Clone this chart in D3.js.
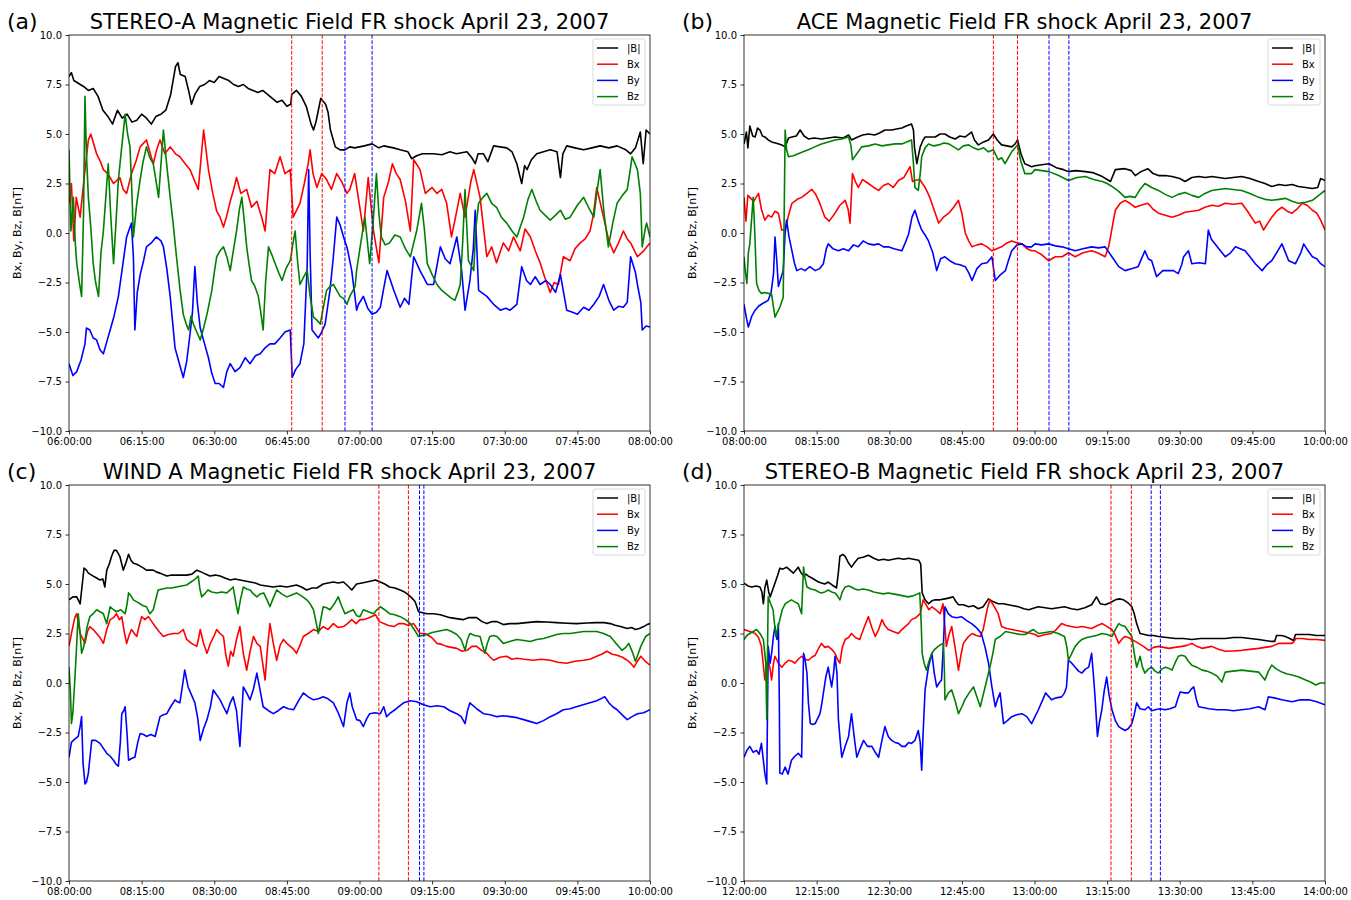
<!DOCTYPE html>
<html><head><meta charset="utf-8">
<script src="https://cdn.jsdelivr.net/npm/d3@7"></script>
<style>body{margin:0;background:#fff} text{font-family:"DejaVu Sans",sans-serif}</style>
</head><body><svg id="chart" width="1351" height="900"></svg>
<script>
// ---- data: [minutes after start, nT] ----
const aB = [[0,7.9],[0.5,8.1],[1,7.7],[2,7.55],[3,7.4],[4,7.2],[5,7.3],[6,6.9],[7,6.2],[8,5.9],[9,5.5],[10,6.2],[11,5.8],[12,6.0],[13,5.6],[14,5.7],[15,6.0],[16,5.8],[17,5.5],[18,5.9],[19,6.0],[20,6.2],[21,7.0],[22,8.4],[22.5,8.6],[23,8.0],[24,7.9],[24.7,7.2],[25.3,6.5],[26,7.0],[27,7.4],[28,7.5],[29,7.7],[30,7.6],[31,7.9],[32,7.8],[33,7.7],[34,7.5],[35,7.4],[36,7.5],[37,7.3],[38,7.2],[39,7.1],[40,7.2],[41,7.0],[42,6.8],[43,6.6],[44,6.7],[45,6.4],[45.8,6.5],[46,7.0],[47,7.2],[48,6.9],[49,6.4],[50,5.5],[50.5,5.2],[51,5.6],[51.5,6.2],[52,6.8],[53,6.5],[53.5,6.1],[54,5.2],[55,4.35],[56,4.2],[57,4.2],[58,4.35],[59,4.3],[60,4.35],[61,4.4],[62.6,4.5],[64,4.3],[65,4.4],[67,4.3],[68.4,4.2],[70,4.1],[70.8,3.75],[71.8,3.9],[73,4.0],[75.3,4.0],[77,3.95],[78.7,4.1],[80,4.0],[82.2,4.1],[83.2,3.8],[83.9,3.5],[84.5,4.0],[85.6,4.0],[86.5,3.6],[87.7,4.4],[89,4.35],[90.4,4.3],[91.5,4.1],[92.5,3.5],[93.5,2.5],[94.1,3.4],[94.6,3.2],[95.5,3.7],[96.6,4.0],[98,4.1],[99.4,4.2],[100.8,4.1],[101.5,2.8],[102,4.0],[102.8,4.4],[104.5,4.3],[106.3,4.2],[108,4.3],[109.7,4.4],[111.5,4.3],[113.2,4.4],[115,4.2],[116,4.0],[117,4.3],[118,5.1],[118.6,3.5],[119.2,5.2],[120,5.0]];
const aBx = [[0,1.5],[0.5,2.5],[1,-0.4],[1.5,1.8],[2.3,0.8],[3,2.5],[4,4.7],[4.5,5.0],[5.7,4.0],[6.5,3.6],[7.1,3.2],[8,3.0],[9.2,2.5],[10.5,2.8],[11.2,2.2],[11.9,2.0],[12.9,3.0],[13.8,3.6],[14.7,4.35],[16,4.7],[16.8,4.0],[17.4,3.5],[18.1,4.2],[18.8,4.7],[19.8,4.0],[20.9,4.35],[22,4.0],[22.9,3.85],[24,3.5],[25,3.2],[26,2.6],[26.7,2.2],[27.8,5.2],[28.8,3.2],[29.7,2.0],[30.5,1.1],[31.2,0.8],[31.9,0.3],[32.5,0.8],[33.3,1.6],[34,2.2],[34.6,2.8],[35.5,2.0],[36.7,2.2],[37.7,1.3],[38.8,1.6],[39.8,0.8],[40.5,0.1],[41.5,3.2],[42.5,3.0],[43.6,3.85],[44.6,3.0],[45.7,3.2],[46.3,0.8],[47.7,1.5],[48.6,2.5],[49.4,3.5],[49.8,4.2],[50.4,3.0],[51.2,2.3],[52.2,3.0],[53.2,2.7],[54.2,2.2],[55.3,3.0],[56.3,2.6],[57.4,2.0],[58,2.2],[59,3.0],[60,1.4],[60.8,0.1],[61.8,2.8],[62.9,0.1],[64,-1.5],[65,1.8],[66,2.6],[66.8,3.5],[67.6,3.0],[68.4,2.7],[69.5,1.6],[70.5,0.1],[71.2,3.7],[72.5,3.2],[73.6,2.0],[75,2.3],[76,2.0],[77,2.2],[78,1.5],[79,-0.2],[80,1.0],[80.8,2.0],[81.8,0.8],[83,2.6],[83.6,3.2],[84.9,1.8],[86.3,-1.2],[87.3,-0.7],[88.3,-1.5],[89.7,-0.5],[90.8,-0.9],[91.8,-0.2],[93.2,-0.9],[94.2,0.2],[95.3,-0.2],[96.3,-0.9],[97.3,-1.5],[98.2,-2.2],[99.4,-3.0],[100.2,-2.5],[101.1,-2.6],[102.1,-1.2],[103.5,-1.4],[104.5,-0.8],[105.6,-0.5],[106.6,-0.3],[107.6,0.1],[108.3,0.9],[109,2.3],[110.4,0.8],[111.5,-0.4],[112.5,-1.0],[113.5,-0.5],[114.5,0.1],[115.3,-0.3],[116,-0.5],[117.4,-1.2],[118.7,-0.9],[120,-0.5]];
const aBy = [[0,-6.6],[0.8,-7.2],[1.6,-7.0],[2.5,-6.4],[3.3,-5.6],[3.6,-4.8],[4.3,-4.9],[5,-5.3],[5.7,-5.4],[6.4,-5.9],[7.1,-6.1],[7.8,-5.5],[8.5,-4.9],[9.3,-4.2],[10.2,-3.2],[11,-1.8],[11.9,-0.2],[12.9,0.5],[13.3,-1.2],[13.6,-4.9],[14.1,-3.0],[14.7,-2.1],[15.4,-1.4],[16,-0.7],[17,-0.5],[18,-0.2],[19,-0.4],[19.5,-0.7],[20.2,-1.8],[20.9,-3.2],[21.9,-5.8],[22.8,-6.6],[23.6,-7.3],[24.3,-6.5],[25,-5.1],[25.5,-4.0],[26,-1.7],[26.5,-3.5],[27.1,-4.8],[28,-5.6],[28.8,-6.3],[29.5,-7.1],[30.2,-7.6],[31,-7.6],[31.9,-7.8],[32.6,-7.0],[33.3,-6.6],[34.3,-7.0],[35.3,-6.8],[36.4,-6.3],[37.4,-6.6],[38.5,-6.2],[39.5,-6.1],[40.5,-5.8],[41.5,-5.6],[42.5,-5.6],[43.6,-5.3],[44.6,-5.0],[45.7,-4.9],[46.1,-7.3],[46.8,-6.9],[47.7,-6.6],[48.5,-5.6],[49.2,-1.6],[49.5,3.2],[49.8,-1.0],[50.2,-4.9],[51.5,-5.3],[52.2,-5.0],[52.9,-4.6],[53.9,-2.9],[54.6,-1.2],[55.3,0.8],[56,0.4],[56.7,-0.2],[57.5,-0.8],[58.4,-1.9],[59.4,-3.9],[59.8,-3.6],[60.8,-3.2],[61.7,-3.8],[62.6,-4.1],[63.5,-4.0],[64.3,-3.75],[65,-2.8],[65.7,-1.9],[67.1,-2.9],[68.4,-3.75],[69.3,-3.3],[70.2,-3.6],[71.2,-1.2],[72.5,-1.9],[74,-2.6],[75.3,-2.6],[76.7,-0.7],[77.7,-1.3],[78.7,-1.55],[80.1,-0.2],[81.1,-1.9],[81.8,-3.9],[82.8,-2.4],[83.5,-0.8],[83.9,1.15],[84.6,-2.9],[86.3,-3.2],[87.7,-3.6],[89.1,-3.9],[90.2,-3.8],[91.1,-3.9],[92.5,-3.6],[93.5,-1.7],[94.5,-2.4],[95.3,-2.6],[96.3,-2.2],[97.3,-2.6],[98.5,-2.4],[99.4,-2.6],[100.5,-3.0],[101.5,-2.1],[102.8,-3.9],[104,-4.0],[105,-4.1],[106.3,-3.75],[107.4,-3.9],[108.4,-3.6],[109.5,-3.2],[110.4,-2.6],[111.5,-3.4],[112.5,-3.9],[113.5,-3.7],[114.5,-3.75],[115.3,-3.5],[116,-1.2],[117,-2.0],[117.4,-2.6],[118.1,-3.5],[118.4,-4.9],[119.2,-4.7],[120,-4.75]];
const aBz = [[0,4.2],[0.4,0.1],[0.9,1.8],[1.3,-0.5],[1.6,-1.55],[2.2,-2.6],[2.6,-3.2],[3,1.0],[3.3,6.9],[3.6,4.0],[4,1.8],[4.5,0.3],[5,-1.55],[5.5,-2.5],[6.1,-3.2],[6.6,-1.0],[7.1,0.1],[7.6,1.8],[8.1,3.5],[8.6,1.0],[9.2,-1.55],[9.7,0.5],[10.2,2.7],[11,4.6],[11.6,6.0],[12.1,5.0],[12.6,4.35],[13,2.0],[13.3,-0.2],[14,1.5],[14.7,2.7],[15.3,3.6],[16,4.35],[16.7,3.8],[17.4,3.5],[18,2.6],[18.5,1.8],[19,3.5],[19.5,5.2],[20.2,3.4],[20.9,1.8],[21.5,0.5],[22.2,-1.2],[22.9,-2.8],[23.6,-4.1],[24.2,-4.6],[24.7,-4.9],[25.2,-4.2],[25.7,-4.6],[26.4,-5.0],[27.1,-5.4],[27.8,-4.8],[28.5,-4.1],[29,-3.5],[29.5,-2.9],[30,-2.0],[30.5,-1.2],[31.2,-0.9],[31.9,-0.7],[32.6,-1.2],[33.3,-1.9],[34,-0.8],[34.6,0.1],[35.2,1.2],[35.7,1.8],[36.2,0.6],[36.7,-0.7],[37.2,-1.6],[37.7,-2.4],[38.4,-2.7],[39.1,-3.2],[39.6,-4.0],[40.1,-4.9],[40.6,-2.5],[41.2,-0.7],[41.9,-1.1],[42.6,-1.55],[43.3,-2.0],[44,-2.4],[44.8,-1.8],[45.7,-1.4],[46.2,-0.6],[46.7,0.1],[47.2,-1.4],[47.7,-2.6],[48.5,-2.2],[49.2,-1.9],[49.8,-3.2],[50.5,-4.25],[51.2,-4.4],[51.9,-4.6],[52.5,-3.8],[53.2,-2.9],[53.9,-2.7],[54.6,-2.6],[55.3,-2.9],[56,-3.2],[56.7,-3.3],[57.4,-3.6],[58,-3.2],[59.1,-2.7],[59.4,-1.9],[60.2,-0.6],[61.1,0.8],[62.1,-1.55],[62.8,0.5],[63.5,3.0],[64,1.0],[64.5,-0.2],[65.3,-0.6],[66.2,-0.5],[67.3,-0.1],[68.4,-0.2],[69.5,-0.8],[70.5,-1.2],[71.2,-0.5],[71.8,0.1],[72.8,1.5],[73.4,0.2],[74,-1.55],[75,-2.1],[76,-2.6],[77,-2.9],[78,-3.1],[79,-3.3],[79.7,-3.4],[80.3,-3.0],[80.8,-2.6],[81.3,-0.5],[81.8,2.2],[82.5,-1.4],[83.6,-1.9],[84,0.2],[84.6,1.5],[85.5,1.8],[86.3,2.0],[87.3,1.5],[88.3,1.3],[89.3,0.8],[90.4,0.5],[91.5,0.1],[92.5,-0.2],[93.2,0.3],[93.9,0.8],[94.8,1.7],[95.6,2.2],[96.5,1.6],[97.3,1.15],[98.3,0.9],[99.4,0.65],[100.5,0.9],[101.5,1.15],[102.5,0.7],[103.5,0.8],[105,1.4],[106.3,1.8],[107.3,1.3],[108.4,0.8],[109,2.0],[109.7,3.2],[110.5,1.0],[111.4,-0.7],[112.3,0.5],[113.2,1.5],[114.3,1.9],[115.3,2.2],[115.8,3.0],[116.3,3.85],[117.4,3.2],[118,2.0],[118.4,-0.7],[119,0.2],[119.3,0.5],[120,-0.2]];

const bB = [[0,4.5],[0.5,5.1],[0.8,4.3],[1.2,5.4],[1.8,4.9],[2.3,4.85],[2.8,5.3],[3.3,5.2],[3.8,4.9],[4.3,4.85],[5,4.7],[5.7,4.6],[6.5,4.55],[7.2,4.5],[7.8,4.45],[8.5,4.35],[9.2,4.8],[9.9,4.85],[10.8,4.9],[11.6,5.2],[12.4,4.9],[13.3,4.75],[14.5,4.8],[16,4.75],[17.4,4.8],[18.8,4.85],[20.5,4.8],[21.6,4.95],[22.2,4.7],[23.5,4.85],[24.5,4.95],[25.7,5.0],[27,4.95],[28,5.05],[29.1,5.2],[30.5,5.2],[31.5,5.25],[32.6,5.3],[33.5,5.4],[34.6,5.5],[35,5.2],[35.2,4.35],[35.7,3.5],[36.1,4.0],[36.4,4.35],[37,4.7],[37.4,4.85],[38.5,4.85],[39.5,4.85],[40.5,5.0],[41.5,5.0],[42.5,4.85],[43.6,4.75],[44.6,4.9],[45.7,4.85],[47,5.1],[47.6,4.7],[48.4,4.45],[49.5,4.6],[50.5,4.7],[51.5,5.0],[52.3,4.7],[53.2,4.45],[54.3,4.4],[55.3,4.35],[56,4.5],[56.5,4.7],[57.2,4.0],[58,3.5],[59.4,3.35],[60.1,3.4],[61.5,3.45],[63,3.5],[64.5,3.3],[66,3.2],[67,3.1],[68.5,3.15],[70.5,3.1],[72,3.05],[74,2.85],[75.7,2.6],[76.7,3.2],[78.7,3.25],[80,3.15],[80.8,2.9],[82,3.1],[83.4,3.25],[84.5,3.0],[85.6,2.9],[87,2.9],[88.4,2.85],[90,2.75],[91.1,2.6],[92.5,2.8],[93.9,2.85],[95.3,2.8],[96.6,2.85],[98,2.8],[99.4,2.75],[101,2.8],[102.8,2.85],[104.5,2.75],[106.3,2.6],[107.6,2.5],[109,2.35],[110.5,2.45],[111.8,2.4],[113.2,2.45],[114.5,2.35],[116,2.3],[117.4,2.25],[118.5,2.3],[119.1,2.75],[120,2.65]];
const bBx = [[0,1.8],[0.4,0.6],[0.8,1.9],[1.2,1.8],[2,1.6],[3,2.0],[3.6,1.2],[4.3,0.65],[5,0.9],[5.7,0.8],[6.4,1.1],[7.1,1.0],[7.8,0.15],[8.5,0.15],[9.2,0.9],[9.9,1.5],[11,1.7],[11.9,1.8],[13,2.0],[14,2.2],[14.7,2.0],[15.5,1.6],[16.7,0.8],[17.6,0.6],[18.8,1.0],[19.8,1.4],[20.9,1.65],[21.5,1.2],[21.9,0.5],[22.4,3.0],[23,2.6],[23.6,2.3],[24.5,2.7],[25.7,2.5],[26.8,2.3],[27.8,2.15],[28.8,2.4],[29.8,2.5],[30.8,2.3],[31.9,2.65],[33,2.8],[34.3,3.35],[34.8,2.6],[35.3,2.65],[36.3,2.7],[37.4,2.3],[38.2,1.9],[38.8,1.5],[39.5,1.0],[40.2,0.5],[41.2,0.8],[42.3,1.0],[43.3,1.3],[44.3,1.65],[45,1.0],[45.7,0.0],[46.4,-0.4],[47.1,-0.7],[48.1,-0.6],[49.1,-0.55],[50.2,-0.7],[51.2,-0.9],[52.2,-0.8],[53.2,-0.7],[54.3,-0.5],[55.3,-0.4],[56.4,-0.5],[57.4,-0.55],[58.5,-0.8],[59.4,-0.9],[60.1,-0.9],[61.5,-1.1],[62.9,-1.4],[64.3,-1.2],[65.7,-1.2],[67,-1.0],[68.4,-1.2],[70,-1.0],[71.8,-0.9],[73,-1.0],[74.6,-1.2],[75.3,-0.7],[75.7,-0.2],[76.2,0.5],[76.7,1.15],[77.7,1.5],[78.7,1.65],[79.7,1.5],[80.8,1.3],[82,1.4],[83.4,1.5],[84.5,1.2],[85.6,1.0],[87,0.9],[88.4,0.8],[89.7,0.9],[91.1,1.05],[92.5,1.1],[93.9,1.15],[95.2,1.3],[96.6,1.4],[98,1.35],[99.4,1.5],[101,1.45],[102.8,1.5],[104,1.1],[105.6,0.5],[106.5,0.6],[107.3,0.15],[108.2,0.5],[109,0.8],[110,1.1],[111.1,1.3],[112.2,1.1],[113.2,1.0],[114.2,1.2],[115.3,1.5],[116.3,1.4],[117.4,1.15],[118.3,1.0],[119.1,0.65],[120,0.15]];
const bBy = [[0,-3.6],[0.5,-4.3],[0.9,-4.75],[1.6,-4.2],[2.3,-3.9],[3,-3.7],[3.6,-3.6],[4.3,-3.5],[5,-3.4],[5.6,-3.0],[6.1,-2.05],[6.4,-0.2],[6.8,-1.5],[7.1,-2.7],[7.6,-2.3],[8.1,-1.9],[8.5,0.0],[8.8,0.65],[9.3,-0.2],[9.9,-0.9],[10.4,-1.5],[10.9,-1.9],[11.8,-1.8],[12.6,-1.9],[13.6,-1.7],[14.7,-1.9],[15.6,-1.8],[16.4,-1.55],[17,-0.8],[17.4,-0.55],[18.4,-0.8],[19.5,-0.9],[20.5,-0.8],[21.6,-0.9],[22.6,-0.6],[23.6,-0.7],[24.6,-0.4],[25.7,-0.55],[26.8,-0.6],[27.8,-0.55],[28.8,-0.7],[29.8,-0.7],[31,-0.8],[32.6,-0.9],[33.3,-0.5],[34,-0.05],[34.7,0.8],[35.3,1.15],[36,0.6],[36.7,0.15],[37.4,-0.1],[38.1,-0.4],[39,-1.0],[39.8,-1.9],[40.6,-1.3],[41.5,-1.2],[42.5,-1.4],[43.6,-1.55],[44.6,-1.6],[45.7,-1.7],[46.4,-2.0],[47.1,-2.4],[48.1,-1.8],[49.1,-1.55],[50.2,-1.5],[51.2,-1.2],[51.9,-2.4],[53,-2.1],[54,-1.9],[54.6,-1.4],[55.3,-0.9],[56.4,-0.6],[57.4,-0.55],[58.4,-0.7],[59.4,-0.7],[60.1,-0.55],[61.5,-0.6],[62.9,-0.55],[64.3,-0.65],[65.7,-0.7],[67,-0.8],[68.4,-0.9],[70,-0.8],[71.8,-0.7],[73.2,-0.75],[74.6,-0.7],[76,-1.2],[77.4,-1.7],[78.7,-1.9],[80,-1.8],[81.4,-1.7],[82.8,-0.9],[83.5,-1.3],[84.2,-1.4],[85.2,-2.2],[86.5,-1.9],[87.7,-1.9],[88.7,-1.9],[89.7,-2.05],[90.4,-1.6],[90.8,-1.2],[91.8,-0.9],[92.5,-1.55],[94,-1.5],[95.3,-1.55],[95.9,0.15],[96.5,-0.3],[97.3,-0.55],[98.4,-0.9],[99.4,-1.2],[100.5,-1.0],[101.5,-0.7],[102.5,-0.8],[103.5,-0.9],[104.5,-1.2],[105.6,-1.55],[107,-1.9],[108,-1.6],[109,-1.4],[110,-1.0],[111.1,-0.55],[112.5,-1.4],[113.9,-1.55],[115,-1.0],[115.6,-0.55],[116.5,-0.9],[117.4,-1.2],[118.3,-1.3],[119.1,-1.55],[120,-1.7]];
const bBz = [[0,-1.2],[0.3,-2.0],[0.6,-2.55],[0.9,-1.0],[1.2,-0.55],[1.6,0.8],[1.9,1.8],[2.2,0.2],[2.6,-2.55],[3.1,-2.9],[3.6,-3.05],[4.3,-3.0],[5,-3.05],[5.7,-3.1],[6.4,-4.25],[6.9,-4.0],[7.4,-3.75],[8.1,-3.25],[8.3,1.0],[8.5,5.2],[8.8,4.2],[9.2,3.85],[10.2,3.9],[11.2,4.0],[12.2,4.1],[13.3,4.2],[14.6,4.35],[16,4.5],[17.4,4.6],[18.8,4.7],[20.2,4.75],[21.6,4.85],[22.1,4.4],[22.4,3.7],[23.3,4.0],[24.3,4.35],[25.7,4.4],[27.1,4.5],[28.5,4.4],[29.8,4.45],[31.2,4.5],[32.6,4.5],[33.6,4.6],[34.6,4.7],[35,3.5],[35.3,2.3],[36,2.15],[36.4,3.0],[36.7,3.85],[37.4,4.3],[38.1,4.5],[39.2,4.4],[40.2,4.45],[41.3,4.55],[42.3,4.5],[43.3,4.35],[44.3,4.2],[45.3,4.4],[46.4,4.45],[47.4,4.3],[48.4,4.2],[49.5,4.3],[50.5,4.1],[51.5,4.2],[52.5,3.7],[53.2,3.8],[53.9,3.5],[54.6,3.8],[55.3,4.1],[56,4.3],[56.5,4.45],[57.2,3.6],[58,3.0],[59.4,3.0],[60.1,3.2],[61.5,3.15],[63,3.1],[65,2.9],[67,2.65],[68.8,2.8],[70.5,2.85],[72.2,2.7],[74,2.6],[75,2.5],[76,2.35],[77.4,2.1],[78.7,1.8],[79.7,1.85],[80.8,1.8],[81.8,2.2],[82.8,2.5],[84.2,2.3],[85.6,2.15],[87,1.95],[88.4,1.8],[89.7,1.95],[91.1,2.05],[92.5,1.9],[93.9,1.8],[95.2,2.0],[96.6,2.15],[98,2.2],[99.4,2.25],[101,2.2],[102.8,2.15],[104.5,2.0],[106.3,1.8],[107.6,1.7],[109,1.65],[110.5,1.7],[111.8,1.75],[113.2,1.6],[114.5,1.5],[116,1.55],[117.4,1.65],[118.7,1.9],[120,2.15]];

const cB = [[0,4.2],[0.8,4.35],[1.6,4.35],[2.3,4.0],[2.7,4.9],[3.1,5.8],[3.6,5.7],[4,5.55],[5,5.4],[5.7,5.3],[6.4,5.2],[7,5.25],[7.4,4.85],[7.8,5.7],[8.3,6.0],[8.8,6.4],[9.3,6.7],[9.8,6.7],[10.5,6.4],[11.2,5.7],[11.8,6.1],[12.3,6.5],[12.8,6.2],[13.3,6.05],[14,6.0],[14.7,5.9],[15.4,5.8],[16,5.7],[17.4,5.7],[18.1,5.6],[18.8,5.55],[20.2,5.4],[21.2,5.45],[22.2,5.45],[23.2,5.45],[24.3,5.45],[25.4,5.5],[26.4,5.7],[27.4,5.6],[28.2,5.5],[29.1,5.4],[30.2,5.45],[31.2,5.4],[32.2,5.3],[33.3,5.2],[34.3,5.25],[35.3,5.2],[36.4,5.15],[37.4,5.1],[38.5,5.05],[39.5,4.95],[40.8,4.9],[42.2,4.85],[43.6,4.9],[45,4.85],[46,4.9],[47,4.95],[48,4.85],[49.1,4.7],[50.2,4.8],[51.2,4.8],[52.5,5.0],[53.5,5.05],[54.6,5.1],[55.6,5.05],[56.7,5.1],[57.6,4.9],[58.4,4.7],[59.4,5.0],[60.5,5.05],[61.5,5.1],[62.4,5.15],[63.3,5.2],[64.3,5.1],[65.2,5.0],[66.2,4.85],[67.3,4.8],[68.4,4.7],[69.3,4.6],[70.1,4.45],[70.8,4.3],[71.5,4.1],[72.2,3.6],[73.9,3.5],[75.3,3.5],[76.7,3.45],[78,3.35],[78.7,3.3],[80,3.25],[81.4,3.2],[82.5,3.3],[84.2,3.3],[85.3,3.1],[86.3,3.0],[87.4,3.1],[88.4,3.1],[89.7,2.95],[91,3.0],[92.5,3.0],[94.5,3.05],[96.6,3.1],[98.6,3.08],[100.7,3.05],[102.8,3.02],[104.8,3.0],[107,3.03],[109,3.05],[110.5,3.05],[111.8,3.0],[112.8,2.92],[113.9,2.85],[115.3,2.75],[116.2,2.8],[117,2.7],[117.8,2.75],[118.7,2.85],[119.4,2.95],[120,3.0]];
const cBx = [[0,1.85],[0.5,2.5],[1.2,3.3],[1.6,3.5],[2.3,2.5],[2.9,2.2],[3.3,2.0],[3.8,2.6],[4.3,2.85],[5,2.7],[5.7,2.5],[6.4,2.3],[7.1,2.0],[7.8,2.7],[8.5,3.2],[9.2,3.3],[9.8,3.5],[10.4,3.2],[10.9,3.35],[11.4,2.6],[11.9,2.0],[12.4,2.4],[12.9,2.7],[13.5,2.5],[14,2.35],[14.5,2.9],[15,3.35],[15.7,3.2],[16.4,3.35],[17.1,3.1],[17.8,2.85],[18.6,2.6],[19.5,2.35],[20.5,2.45],[21.6,2.5],[22.6,2.5],[23.6,2.7],[24.3,2.2],[25.3,2.0],[26.4,1.85],[26.8,2.3],[27.1,2.7],[27.8,2.0],[28.5,1.5],[29.2,2.0],[30,2.4],[30.5,2.7],[31.2,2.5],[31.9,2.35],[32.4,1.4],[32.9,0.85],[33.4,1.6],[33.9,1.35],[34.6,2.2],[35.3,2.85],[36,1.5],[36.7,0.65],[37.4,1.6],[38.1,2.35],[38.8,2.0],[39.5,1.85],[40,1.0],[40.5,0.15],[41,1.8],[41.5,3.0],[42.2,2.0],[42.9,1.15],[43.6,1.9],[44.3,2.2],[45,2.0],[45.7,1.85],[46.4,1.7],[47,1.5],[47.7,1.9],[48.4,2.35],[49.4,2.5],[50.5,2.7],[51.5,2.6],[52.5,2.85],[53.5,2.7],[54.6,3.0],[55.6,2.8],[56.7,2.85],[57.5,3.0],[58.4,3.2],[59.3,3.0],[60.1,3.2],[60.8,3.2],[62,3.3],[63.3,3.45],[64.1,3.1],[65,3.0],[66,2.9],[67.1,2.85],[68.1,3.0],[69.1,3.0],[70.1,2.9],[71.2,3.0],[72.5,2.5],[73.5,2.5],[74.6,2.35],[75.3,2.2],[76,2.0],[77,1.95],[78,1.85],[79,1.8],[80.1,1.75],[81.2,1.6],[82.2,1.65],[83.2,1.85],[84.2,1.85],[85.2,1.65],[86.3,1.5],[87,1.3],[87.7,1.15],[89,1.3],[90.4,1.35],[91.5,1.2],[92.5,1.25],[94,1.2],[95.9,1.15],[97.5,1.2],[99.4,1.15],[101,1.05],[102.8,1.0],[104.5,1.1],[106.3,1.15],[107.6,1.2],[109,1.35],[110,1.45],[111.1,1.6],[112.2,1.45],[113.2,1.4],[114.3,1.3],[115.3,1.15],[116,1.0],[116.7,0.8],[117.4,1.1],[118.1,1.35],[119,1.1],[120,0.9]];
const cBy = [[0,-3.75],[0.5,-3.0],[0.9,-2.9],[1.4,-2.8],[1.9,-2.7],[2.3,-2.2],[2.6,-1.7],[2.9,-4.05],[3.3,-5.1],[3.6,-5.0],[4,-4.55],[4.4,-3.6],[4.7,-2.9],[5.5,-2.9],[6.4,-3.05],[7.1,-3.3],[7.8,-3.55],[8.5,-3.7],[9.2,-3.9],[9.7,-4.1],[10.2,-4.2],[10.6,-3.0],[10.9,-1.55],[11.3,-1.4],[11.6,-1.2],[12,-2.6],[12.3,-3.9],[13,-3.8],[13.6,-3.75],[14.2,-3.0],[14.7,-2.55],[15.4,-2.6],[16,-2.7],[16.9,-2.6],[17.8,-2.7],[18.3,-2.2],[18.8,-1.7],[19.5,-1.6],[20.2,-1.55],[21,-1.2],[21.9,-0.85],[22.4,-0.95],[22.9,-1.0],[23.4,-0.2],[23.9,0.65],[24.6,-0.2],[25.3,-0.6],[26,-1.0],[26.6,-1.8],[27.1,-2.9],[27.8,-2.3],[28.5,-1.85],[29.2,-1.2],[29.8,-0.35],[30.5,-0.6],[31.2,-0.85],[31.9,-1.2],[32.6,-1.55],[33.3,-1.0],[33.9,-0.7],[34.6,-1.4],[35.3,-3.2],[35.7,-1.5],[36,-0.2],[36.7,-0.5],[37.4,-0.85],[38.1,-0.3],[38.8,0.5],[39.5,-0.4],[40.1,-1.2],[41.2,-1.4],[42.2,-1.55],[43.2,-1.4],[44.3,-1.2],[45.3,-1.3],[46.4,-1.35],[47.4,-0.9],[48.4,-0.5],[49.4,-0.7],[50.5,-0.85],[51.5,-0.8],[52.5,-0.7],[53.5,-0.8],[54.6,-1.0],[55.6,-1.5],[56.7,-2.2],[57.4,-1.0],[58,-0.5],[58.5,-1.2],[59,-1.55],[59.4,-1.85],[60.1,-1.9],[60.8,-2.2],[61.5,-1.8],[62.1,-1.55],[63.2,-1.5],[64.3,-1.55],[65,-1.2],[65.6,-1.7],[66.2,-1.55],[67.6,-1.3],[69.1,-1.0],[70.5,-0.9],[71.8,-0.95],[73.2,-1.1],[74.6,-1.2],[76,-1.15],[77.4,-1.2],[78.7,-1.4],[80.1,-1.55],[81,-1.7],[81.8,-2.05],[82.3,-1.4],[82.8,-1.0],[84.2,-1.3],[85.6,-1.55],[87,-1.6],[88.4,-1.7],[89.7,-1.65],[91.1,-1.7],[92.5,-1.75],[93.9,-1.85],[95.3,-1.95],[96.6,-2.05],[98,-1.9],[99.4,-1.7],[100.7,-1.55],[102.1,-1.35],[103.5,-1.3],[104.8,-1.2],[106.2,-1.1],[107.6,-1.0],[109,-0.9],[110.2,-0.75],[110.7,-0.7],[111.5,-1.0],[112.3,-1.2],[113.2,-1.35],[114.2,-1.6],[115.3,-1.85],[116.3,-1.7],[117.4,-1.55],[118.7,-1.5],[120,-1.35]];
const cBz = [[0,0.8],[0.3,-0.5],[0.5,-2.05],[0.8,-1.5],[1.2,0.15],[1.6,2.0],[1.9,3.5],[2.3,2.5],[2.6,1.5],[3,1.8],[3.3,2.2],[3.8,2.9],[4.3,3.35],[5,3.5],[5.7,3.7],[6.4,3.6],[7.1,3.5],[7.5,3.2],[7.8,3.0],[8.2,3.5],[8.5,3.85],[9.2,3.7],[9.8,3.6],[10.7,3.7],[11.6,3.5],[12,4.0],[12.3,4.55],[12.8,4.4],[13.3,4.2],[14,4.1],[14.7,4.0],[15.3,3.9],[16,3.85],[16.7,3.5],[17.4,3.7],[17.9,4.2],[18.4,4.7],[19.3,4.75],[20.2,4.8],[21.2,4.8],[22.2,4.85],[23.2,4.9],[24.3,4.95],[25.5,5.15],[26.3,5.3],[26.7,5.4],[27,4.8],[27.4,4.35],[28,4.5],[28.7,4.7],[29.5,4.6],[30.5,4.55],[31.5,4.6],[32.6,4.55],[33.3,4.7],[33.9,4.85],[34.5,4.0],[34.9,3.5],[35.4,4.2],[36,4.85],[36.7,4.75],[37.4,4.7],[38.1,4.5],[38.8,4.35],[39.5,4.5],[40.2,4.55],[40.9,4.2],[41.5,3.85],[42.2,4.3],[42.9,4.7],[43.9,4.5],[45,4.35],[46,4.45],[47,4.55],[48,4.4],[49.1,4.2],[49.8,4.0],[50.5,3.7],[51,3.1],[51.5,2.5],[52,3.2],[52.5,3.85],[53.2,3.8],[53.9,3.7],[54.8,4.0],[55.6,4.35],[56.3,3.9],[57,3.5],[57.8,3.6],[58.7,3.7],[59.4,3.4],[60.1,3.35],[60.8,3.7],[61.8,3.6],[62.9,3.5],[63.6,3.7],[64.3,3.85],[65.2,3.7],[66.2,3.5],[67.3,3.45],[68.4,3.35],[69.5,3.2],[70.5,3.0],[71.3,2.7],[72.2,2.35],[73,2.4],[73.9,2.45],[75,2.55],[76,2.6],[77,2.65],[78,2.7],[79,2.6],[80.1,2.45],[81,2.2],[81.8,1.65],[82.3,2.2],[82.8,2.5],[83.8,2.4],[84.9,2.35],[85.4,1.9],[85.9,1.5],[86.4,2.0],[86.9,2.35],[87.7,2.4],[88.4,2.35],[89.7,2.0],[91,2.1],[92.5,2.2],[94,2.15],[95.3,2.1],[96.6,2.2],[98,2.25],[99.4,2.35],[100.7,2.45],[102.1,2.5],[103.5,2.5],[104.9,2.55],[106.3,2.6],[107.6,2.6],[109,2.6],[110.4,2.5],[111.8,2.35],[113,2.0],[114.2,1.65],[115,1.8],[115.6,2.0],[116.3,1.6],[117,1.1],[117.6,1.5],[118.1,1.85],[119.1,2.35],[120,2.5]];

const dB = [[0,5.05],[0.8,4.9],[1.6,4.85],[2.5,4.9],[3.3,4.85],[3.7,4.6],[4,4.0],[4.3,4.8],[4.7,5.2],[5.1,4.6],[5.4,4.35],[5.9,4.7],[6.4,5.05],[6.9,5.4],[7.4,5.8],[8,5.75],[8.8,5.85],[9.5,5.7],[10.2,5.55],[10.7,5.7],[11.2,5.85],[11.7,5.6],[12.3,5.4],[12.8,5.5],[13.3,5.4],[14,5.3],[14.7,5.2],[15.4,5.1],[16,5.05],[16.7,5.0],[17.4,5.1],[18.2,4.95],[19.1,4.8],[19.5,5.6],[19.8,6.4],[20.4,6.5],[20.9,6.4],[21.5,6.1],[22.2,5.85],[22.9,6.1],[23.6,6.3],[24.6,6.35],[25.7,6.45],[26.8,6.3],[27.8,6.2],[28.8,6.25],[29.8,6.2],[30.8,6.25],[31.9,6.3],[33,6.25],[34,6.3],[35,6.25],[36.1,6.2],[36.5,6.0],[36.8,4.55],[37.4,4.2],[38.1,4.0],[38.8,4.15],[39.5,4.2],[40.5,4.2],[41.5,4.25],[42.4,4.3],[43.2,4.35],[43.8,4.1],[44.3,3.95],[45.3,3.95],[46.4,3.85],[47.4,3.9],[48.4,3.75],[49.4,3.85],[50.5,4.25],[51.5,4.1],[52.5,4.0],[53.6,4.0],[54.6,3.95],[55.6,3.9],[56.7,3.85],[57.8,3.75],[58.8,3.7],[60.1,3.8],[60.8,3.85],[62.2,3.8],[63.5,3.75],[64.9,3.8],[66.2,3.85],[67.6,3.75],[68.9,3.7],[70.4,3.8],[71.8,3.95],[72.8,4.35],[73.6,4.0],[74.6,3.95],[75.6,4.05],[76.7,4.2],[77.5,4.25],[78.4,4.2],[79.3,4.05],[80.1,3.85],[80.6,3.5],[81.1,3.0],[81.8,2.5],[82.7,2.45],[83.6,2.4],[84.6,2.4],[85.6,2.35],[87.3,2.3],[89.1,2.25],[90.8,2.25],[92.5,2.2],[94.3,2.25],[96,2.25],[97.7,2.25],[99.4,2.25],[101.1,2.3],[102.8,2.3],[104.5,2.25],[106.3,2.2],[107.6,2.15],[109,2.1],[109.6,2.1],[110,2.4],[111,2.4],[111.8,2.35],[112.7,2.25],[113.5,2.15],[113.9,2.45],[115.3,2.45],[116.7,2.45],[118.3,2.4],[120,2.4]];
const dBx = [[0,2.7],[1.2,2.6],[2.3,2.5],[3,2.3],[3.6,1.85],[4.3,0.15],[5,1.15],[5.4,0.7],[5.7,0.15],[6.1,1.0],[6.4,1.35],[7.1,1.0],[7.8,0.8],[8.5,1.0],[9.2,1.15],[9.9,1.1],[10.5,1.0],[11.2,1.2],[11.9,1.35],[12.6,1.2],[13.3,1.15],[14,1.3],[14.7,1.4],[15.3,1.7],[16,2.0],[16.7,1.8],[17.4,1.85],[18.1,1.7],[18.8,1.5],[19.3,1.2],[19.8,1.0],[20.3,1.8],[20.9,2.2],[21.6,2.3],[22.2,2.5],[23,2.3],[23.9,2.2],[24.8,2.8],[25.7,3.35],[26.4,2.8],[27.1,2.35],[27.8,2.7],[28.5,3.2],[29.1,2.9],[29.8,2.7],[30.8,2.6],[31.9,2.5],[32.6,2.7],[33.3,2.85],[34,3.0],[34.6,3.2],[35.5,3.3],[36.4,3.5],[37,4.2],[37.5,4.0],[38.2,3.7],[38.8,3.85],[39.6,3.7],[40.5,3.5],[41.1,4.0],[41.5,2.8],[41.8,1.85],[42.3,2.4],[42.9,2.85],[43.6,1.8],[44.3,0.65],[44.8,1.4],[45.3,2.0],[46.2,2.3],[47.1,2.5],[48,2.4],[48.8,2.35],[49.4,2.7],[49.8,3.2],[50.3,3.8],[50.8,4.2],[51.6,3.9],[52.5,3.5],[53.2,2.85],[54.2,2.75],[55.3,2.7],[56.3,2.65],[57.4,2.6],[58.4,2.55],[59.4,2.5],[60.1,2.45],[60.8,2.35],[62.2,2.45],[63.5,2.5],[64.5,2.7],[65.6,3.0],[66.6,2.9],[67.6,2.85],[68.7,2.8],[69.8,2.85],[70.8,2.8],[71.8,2.75],[73,2.9],[74,3.0],[75,2.85],[76,2.7],[76.7,2.4],[77.4,2.0],[78,2.2],[78.7,2.35],[79.4,2.3],[80.1,2.2],[80.8,2.1],[81.5,2.0],[82.5,1.85],[83.6,1.65],[84.6,1.8],[85.6,1.85],[86.7,1.8],[87.7,1.75],[89,1.8],[90.4,1.85],[91.5,1.9],[92.5,2.0],[93.5,1.85],[94.6,1.75],[95.6,1.8],[96.6,1.85],[98,1.7],[99.4,1.6],[101,1.62],[102.8,1.65],[104.5,1.7],[106.3,1.75],[107.6,1.8],[109,1.85],[110.4,2.0],[111.8,2.0],[113.2,2.0],[113.6,2.1],[114,2.25],[115.3,2.25],[116.7,2.2],[118.3,2.2],[120,2.15]];
const dBy = [[0,-3.75],[0.6,-3.4],[1.2,-3.2],[1.9,-3.5],[2.6,-3.4],[3.1,-3.6],[3.6,-3.05],[4.3,-4.55],[4.7,-5.1],[4.85,-1.5],[5,1.85],[5.4,1.0],[5.7,1.5],[6.1,2.4],[6.4,2.85],[6.8,2.2],[7.1,3.0],[7.3,-1.0],[7.4,-4.55],[7.9,-4.6],[8.5,-4.25],[9.1,-4.6],[9.8,-3.9],[10.5,-3.7],[11.2,-3.55],[11.9,-3.75],[12.1,-1.0],[12.3,1.5],[12.6,1.2],[13,0.5],[13.3,-1.0],[13.7,-2.05],[14.2,-2.1],[14.7,-2.05],[15.2,-1.8],[15.7,-1.55],[16.1,-1.0],[16.4,-0.5],[16.9,0.3],[17.4,0.8],[17.8,0.2],[18.1,-0.2],[18.5,0.5],[18.8,1.35],[19.2,0.5],[19.5,-1.85],[19.9,-3.0],[20.2,-3.75],[20.9,-3.2],[21.6,-2.7],[22.2,-1.55],[22.8,-2.8],[23.3,-3.75],[24,-3.3],[24.7,-2.9],[25.5,-3.2],[26.4,-3.2],[27.1,-3.5],[27.8,-3.75],[28.4,-3.0],[29.1,-2.2],[29.8,-2.7],[30.5,-2.9],[31.2,-3.0],[31.9,-3.05],[32.6,-3.2],[33.3,-3.2],[34,-3.0],[34.6,-3.05],[35.3,-2.9],[36,-2.4],[36.4,-3.0],[36.7,-4.4],[37,-2.5],[37.4,-0.35],[38.1,0.8],[38.8,1.5],[39.3,0.5],[39.8,-0.2],[40.3,0.0],[40.8,0.15],[41.2,2.0],[41.5,3.85],[42.2,3.5],[42.9,3.35],[43.9,3.3],[44.9,3.35],[46,3.15],[47,3.0],[48,2.8],[49,2.5],[49.8,1.8],[50.5,1.0],[51.2,-0.2],[51.9,-1.2],[52.4,-0.8],[52.9,-0.5],[53.6,-2.05],[54.4,-1.9],[55.3,-1.7],[56.3,-1.6],[57.4,-1.55],[58.4,-1.7],[59.4,-2.05],[60.1,-1.7],[60.8,-1.35],[61.6,-0.9],[62.3,-0.5],[63,-0.7],[63.5,-0.85],[64.5,-0.75],[65.6,-0.7],[66.2,-0.5],[66.6,-0.2],[67,1.15],[67.7,1.0],[68.4,0.8],[69.1,0.6],[69.8,0.5],[70.5,0.7],[71.2,0.8],[71.8,1.5],[72.2,0.3],[72.5,-0.7],[73,-2.7],[73.4,-2.0],[73.9,-1.35],[74.4,-0.4],[74.9,0.3],[75.4,-0.6],[76,-1.35],[76.7,-1.9],[77.4,-2.2],[78,-2.3],[78.7,-2.4],[79.4,-2.3],[80.1,-2.05],[80.6,-1.6],[81.1,-1.0],[81.8,-1.3],[82.8,-1.35],[83.5,-1.2],[84.2,-1.4],[84.9,-1.35],[85.9,-1.3],[87,-1.35],[88,-1.3],[89.1,-1.2],[89.6,-0.8],[90.1,-0.45],[91,-0.5],[91.8,-0.5],[92.4,-0.3],[92.9,-0.2],[93.4,-0.8],[93.9,-1.2],[95,-1.25],[96,-1.3],[97.7,-1.35],[99.4,-1.35],[101.1,-1.4],[102.8,-1.35],[104.5,-1.3],[106.3,-1.2],[107.6,-1.35],[108,-1.0],[108.3,-0.7],[109.5,-0.75],[111.1,-0.85],[112.1,-0.9],[113.2,-0.95],[114.9,-0.85],[116.7,-0.85],[118.3,-0.95],[120,-1.1]];
const dBz = [[0,2.2],[0.6,2.4],[1.2,2.5],[1.9,2.6],[2.6,2.7],[3.3,2.5],[4,2.2],[4.5,1.0],[4.7,-1.85],[4.85,1.5],[5,4.35],[5.5,4.0],[6,3.7],[6.3,3.0],[6.6,2.35],[7,2.8],[7.4,3.2],[7.9,3.7],[8.5,4.0],[9.1,4.1],[9.8,4.2],[10.5,4.1],[11.2,4.0],[11.9,3.5],[12.1,4.7],[12.3,5.85],[12.6,5.3],[13,4.85],[13.8,4.75],[14.7,4.7],[15.4,4.6],[16,4.55],[16.7,4.6],[17.4,4.7],[18.1,4.6],[18.8,4.55],[19.3,4.4],[19.8,4.2],[20.3,4.6],[20.9,4.85],[21.6,4.9],[22.2,4.85],[22.9,4.75],[23.6,4.7],[24.6,4.75],[25.7,4.7],[26.8,4.6],[27.8,4.55],[28.8,4.5],[29.8,4.55],[30.8,4.5],[31.9,4.45],[32.9,4.4],[33.9,4.35],[34.9,4.4],[36.3,4.55],[36.6,3.0],[36.8,1.5],[37.2,1.0],[37.7,0.65],[38.2,1.1],[38.8,1.5],[39.4,1.7],[40.1,1.85],[40.7,1.95],[41.2,2.0],[41.4,0.5],[41.5,-0.85],[42.2,-0.5],[42.9,-0.35],[43.6,-0.9],[44.3,-1.55],[45,-1.2],[45.6,-0.85],[46.5,-0.5],[47.4,-0.2],[48.1,-0.7],[48.8,-1.2],[49.3,-0.7],[49.8,-0.2],[50.3,0.3],[50.8,0.8],[51.4,1.5],[51.9,2.2],[52.9,2.35],[54,2.6],[55,2.55],[56,2.5],[57,2.45],[58.1,2.45],[59,2.6],[59.8,2.7],[60.8,2.5],[62.2,2.55],[63.5,2.6],[64.9,2.5],[66.2,2.35],[66.7,1.8],[67,1.15],[67.7,1.5],[68.4,1.85],[69.1,2.05],[69.8,2.2],[70.8,2.3],[71.8,2.35],[72.8,2.4],[73.9,2.5],[75,2.45],[76,2.35],[76.7,2.7],[77.4,3.0],[78.1,2.9],[78.7,2.85],[79.4,2.6],[80.1,2.35],[80.6,1.5],[81.1,0.8],[81.5,1.1],[81.8,1.35],[82.3,0.8],[82.8,0.5],[83.5,0.7],[84.2,0.8],[84.9,0.6],[85.6,0.5],[86.3,0.7],[87,0.8],[87.7,0.75],[88.4,0.65],[89,1.0],[89.7,1.35],[90.4,1.4],[91.1,1.35],[91.8,1.1],[92.5,0.9],[93.5,0.8],[94.6,0.65],[95.6,0.6],[96.6,0.5],[97.7,0.35],[98.7,0.05],[99.4,0.55],[101,0.6],[102.8,0.65],[104.5,0.6],[106.3,0.55],[107.6,0.15],[108.3,0.6],[109,0.9],[110,0.7],[111.1,0.55],[112.2,0.45],[113.2,0.4],[114.6,0.3],[116,0.15],[117,0.05],[118.1,-0.1],[119,0.0],[120,0.0]];

// shock / boundary markers (minutes after start)
const aRed = [46, 52.3], aBlue = [57, 62.6];
const bRed = [51.5, 56.5], bBlue = [63, 67.1];
const cRed = [64, 70.1], cBlue = [72.4, 73.3];
const dRed = [75.8, 80], dBlue = [84.1, 86];

const startTimes = ["2007-04-23T06:00:00", "2007-04-23T08:00:00", "2007-04-23T08:00:00", "2007-04-23T12:00:00"];
const panelLabels = ["(a)", "(b)", "(c)", "(d)"];
const titles = ["STEREO-A Magnetic Field FR shock April 23, 2007", "ACE Magnetic Field FR shock April 23, 2007",
                "WIND A Magnetic Field FR shock April 23, 2007", "STEREO-B Magnetic Field FR shock April 23, 2007"];
const seriesNames = ["|B|", "Bx", "By", "Bz"];
const seriesColors = ["#000000", "#ff0000", "#0000ff", "#008000"];
const yTicks = [-10, -7.5, -5, -2.5, 0, 2.5, 5, 7.5, 10];
const yLabel = "Bx, By, Bz, B[nT]";

const panelData = [[aB, aBx, aBy, aBz], [bB, bBx, bBy, bBz], [cB, cBx, cBy, cBz], [dB, dBx, dBy, dBz]];
const panelRed = [aRed, bRed, cRed, dRed];
const panelBlue = [aBlue, bBlue, cBlue, dBlue];
const boxes = [{l:69, r:650, t:35, b:431}, {l:744, r:1325, t:35, b:431}, {l:69, r:650, t:485, b:881}, {l:744, r:1325, t:485, b:881}];

const svg = d3.select("#chart");
const parse = d3.isoParse;
const fmt = d3.timeFormat("%H:%M:%S");

boxes.forEach((bx, i) => {
  const t0 = parse(startTimes[i]);
  const toDate = m => new Date(t0.getTime() + m * 60000);
  const x = d3.scaleTime().domain([t0, toDate(120)]).range([bx.l, bx.r]);
  const y = d3.scaleLinear().domain([-10, 10]).range([bx.b, bx.t]);
  const g = svg.append("g");

  const clipId = "clip" + i;
  g.append("clipPath").attr("id", clipId).append("rect")
    .attr("x", bx.l).attr("y", bx.t).attr("width", bx.r - bx.l).attr("height", bx.b - bx.t);

  const plot = g.append("g").attr("clip-path", `url(#${clipId})`);
  const line = d3.line().x(d => x(toDate(d[0]))).y(d => y(d[1]));
  panelData[i].forEach((ser, k) => {
    plot.append("path").datum(ser).attr("d", line)
      .attr("fill", "none").attr("stroke", seriesColors[k]).attr("stroke-width", 1.6)
      .attr("stroke-linejoin", "round");
  });
  const vlines = [...panelRed[i].map(m => ({m, c: "#ff0000"})), ...panelBlue[i].map(m => ({m, c: "#0000ff"}))];
  plot.selectAll("line.v").data(vlines).join("line")
    .attr("x1", d => x(toDate(d.m))).attr("x2", d => x(toDate(d.m)))
    .attr("y1", bx.t).attr("y2", bx.b)
    .attr("stroke", d => d.c).attr("stroke-width", 1).attr("stroke-dasharray", "3.7,1.6");

  // axes
  const xa = g.append("g").attr("transform", `translate(0,${bx.b})`)
    .call(d3.axisBottom(x).ticks(d3.timeMinute.every(15)).tickFormat(fmt).tickSize(3.5).tickPadding(3.5));
  const ya = g.append("g").attr("transform", `translate(${bx.l},0)`)
    .call(d3.axisLeft(y).tickValues(yTicks).tickFormat(d3.format(".1f")).tickSize(3.5).tickPadding(3.5));
  [xa, ya].forEach(a => {
    a.select(".domain").remove();
    a.selectAll("line").attr("stroke", "#000").attr("stroke-width", 0.8);
    a.selectAll("text").attr("font-size", 10).attr("font-family", "DejaVu Sans").attr("fill", "#000");
  });
  g.append("rect").attr("x", bx.l).attr("y", bx.t).attr("width", bx.r - bx.l).attr("height", bx.b - bx.t)
    .attr("fill", "none").attr("stroke", "#000").attr("stroke-width", 0.8);

  // y label
  g.append("text").attr("transform", `translate(${bx.l - 48},${(bx.t + bx.b) / 2}) rotate(-90)`)
    .attr("text-anchor", "middle").attr("font-size", 11).text(yLabel);

  // title and panel label
  g.append("text").attr("x", (bx.l + bx.r) / 2 - 10).attr("y", bx.t - 6)
    .attr("text-anchor", "middle").attr("font-size", 21).text(titles[i]);
  g.append("text").attr("x", bx.l - 62).attr("y", bx.t - 6)
    .attr("font-size", 22).text(panelLabels[i]);

  // legend
  const lg = g.append("g").attr("transform", `translate(${bx.r - 57},${bx.t + 4})`);
  lg.append("rect").attr("x", 0).attr("y", 0).attr("width", 52).attr("height", 66).attr("rx", 2)
    .attr("fill", "#fff").attr("fill-opacity", 0.8).attr("stroke", "#d0d0d0").attr("stroke-width", 0.8);
  seriesNames.forEach((nm, k) => {
    const yy = 9 + k * 16.2;
    lg.append("line").attr("x1", 4).attr("x2", 25).attr("y1", yy).attr("y2", yy)
      .attr("stroke", seriesColors[k]).attr("stroke-width", 1.5);
    lg.append("text").attr("x", 34).attr("y", yy + 3.5).attr("font-size", 10).text(nm);
  });
});
</script></body></html>
